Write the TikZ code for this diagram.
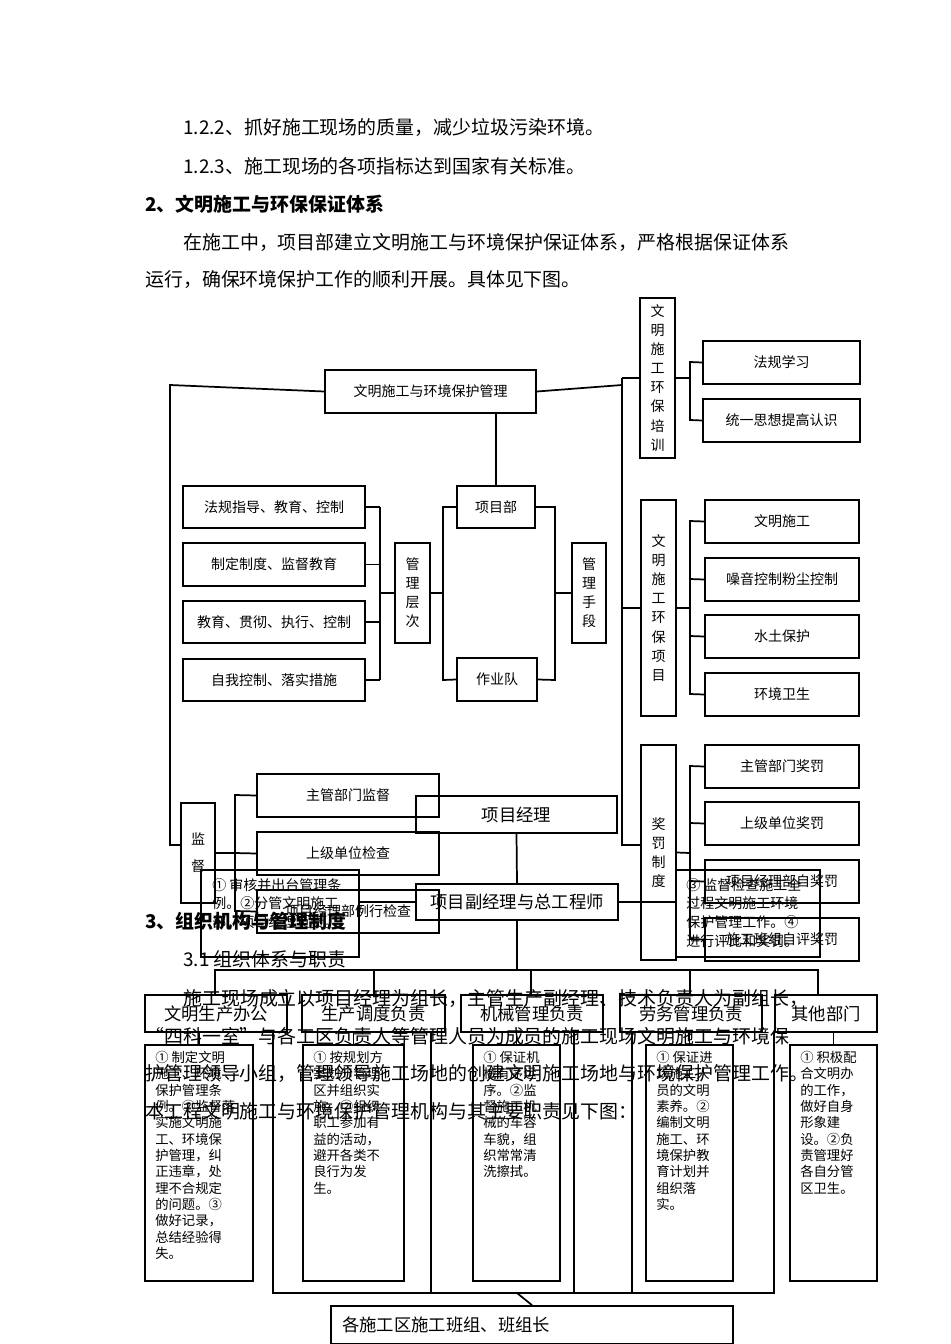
\documentclass[tikz,border=0pt]{standalone}
\usepackage{fontspec}
\setmainfont{Noto Sans CJK SC}
\begin{document}
\begin{tikzpicture}[x=0.75pt,y=-0.75pt,
  bx/.style={draw,line width=1.3pt,inner sep=0pt,font=\fontsize{10.5}{12}\selectfont},
  vbx/.style={bx,align=center,font=\fontsize{10.5}{14.3}\selectfont},
  para/.style={anchor=west,inner sep=0pt,font=\fontsize{14.2}{16}\selectfont},
  ln/.style={line width=1.3pt}]
\useasboundingbox (0,0) rectangle (950,1344);
\fill[white] (0,0) rectangle (950,1344);
\newcommand\mybx[6]{\node[bx,minimum width={(#4-#2)*0.75pt},minimum height={(#5-#3)*0.75pt}] (#1) at ({(#2+#4)/2},{(#3+#5)/2}) {#6};}
\newcommand\myvbx[6]{\node[vbx,minimum width={(#4-#2)*0.75pt},minimum height={(#5-#3)*0.75pt}] (#1) at ({(#2+#4)/2},{(#3+#5)/2}) {#6};}
% paragraphs
\node[para] (p1) at (183,128) {1.2.2、抓好施工现场的质量，减少垃圾污染环境。};
\node[para] (p2) at (183,166) {1.2.3、施工现场的各项指标达到国家有关标准。};
\node[para,font=\fontsize{14.2}{16}\selectfont\bfseries] (p3) at (145,204) {2、文明施工与环保保证体系};
\node[para] (p4) at (183,242) {在施工中，项目部建立文明施工与环境保护保证体系，严格根据保证体系};
\node[para] (p5) at (145,280) {运行，确保环境保护工作的顺利开展。具体见下图。};
% upper chart
\mybx{top}{325}{370}{536}{413}{文明施工与环境保护管理}
\mybx{xmb}{457}{486}{535}{528}{项目部}
\mybx{zyd}{457}{658}{537}{701}{作业队}
\mybx{l1}{183}{486}{365}{528}{法规指导、教育、控制}
\mybx{l2}{183}{543}{365}{586}{制定制度、监督教育}
\mybx{l3}{183}{601}{365}{643}{教育、贯彻、执行、控制}
\mybx{l4}{183}{659}{365}{701}{自我控制、落实措施}
\myvbx{glc}{395}{543}{430}{643}{管\\理\\层\\次}
\myvbx{gls}{572}{543}{606}{643}{管\\理\\手\\段}
\foreach \n in {l1,l2,l3,l4} \draw[ln] (\n.east) -- (\n.east -| 380,0);
\draw[ln] (380,507) -- (380,680); \draw[ln] (380,593) -- (glc.west);
\draw[ln] (xmb.west) -- (443,507) -- (443,680) -- (zyd.west); \draw[ln] (443,593) -- (glc.east);
\draw[ln] (xmb.east) -- (555,507) -- (555,680) -- (zyd.east); \draw[ln] (555,593) -- (gls.west);
\draw[ln] (xmb.north |- top.south) -- (xmb.north);
% right columns
\myvbx{px}{640}{298}{675}{458}{文\\明\\施\\工\\环\\保\\培\\训}
\mybx{r1}{703}{341}{860}{384}{法规学习}
\mybx{r2}{703}{399}{860}{442}{统一思想提高认识}
\draw[ln] (px.east) -- (690,378); \draw[ln] (r1.west) -- (690,362) -- (690,420) -- (r2.west);
\myvbx{xm}{641}{500}{676}{716}{文\\明\\施\\工\\环\\保\\项\\目}
\mybx{r3}{705}{500}{859}{543}{文明施工}
\mybx{r4}{705}{558}{859}{601}{噪音控制粉尘控制}
\mybx{r5}{705}{615}{859}{658}{水土保护}
\mybx{r6}{705}{673}{859}{716}{环境卫生}
\draw[ln] (r3.west) -- (690,521) -- (690,694) -- (r6.west);
\draw[ln] (r4.west) -- (690,579); \draw[ln] (r5.west) -- (690,636); \draw[ln] (xm.east) -- (690,608);
\myvbx{jf}{641}{745}{676}{960}{奖\\罚\\制\\度}
\mybx{r7}{705}{745}{859}{788}{主管部门奖罚}
\mybx{r8}{705}{802}{859}{845}{上级单位奖罚}
\mybx{r9}{705}{860}{859}{903}{项目经理部自奖罚}
\mybx{r10}{705}{918}{859}{961}{施工班组自评奖罚}
\draw[ln] (r7.west) -- (690,766) -- (690,939) -- (r10.west);
\draw[ln] (r8.west) -- (690,823); \draw[ln] (r9.west) -- (690,881); \draw[ln] (jf.east) -- (690,853);
\draw[ln] (top.east) -- (622,385); \draw[ln] (622,378) -- (622,845) -- (jf.west |- 0,845);
\draw[ln] (622,378) -- (px.west |- 0,378); \draw[ln] (622,608) -- (xm.west |- 0,608);
% supervision
\myvbx{jd}{181}{803}{215}{903}{监\\[6pt]督}
\mybx{s1}{257}{774}{439}{817}{主管部门监督}
\mybx{s2}{257}{832}{439}{875}{上级单位检查}
\mybx{s3}{257}{890}{439}{933}{项目经理部例行检查}
\draw[ln] (top.west) -- (170,385) -- (170,845) -- (jd.west |- 0,845);
\draw[ln] (s1.west) -- (235,795) -- (235,911) -- (s3.west); \draw[ln] (s2.west) -- (235,853); \draw[ln] (jd.east) -- (235,853);
% lower chart
\mybx{pm}{416}{796}{617}{833}{\fontsize{13}{15}\selectfont 项目经理}
\mybx{vpm}{416}{884}{618}{920}{\fontsize{13}{15}\selectfont 项目副经理与总工程师}
\node[bx,minimum width={158*0.75pt},minimum height={87*0.75pt}] (ovl) at (280,913.5) {};
\node[anchor=north west,inner sep=0pt,align=left,font=\fontsize{10.5}{14}\selectfont] (ovlt) at (212,878) {① 审核并出台管理条\\例。②分管文明施工\\部、项目经理负责。};
\node[bx,minimum width={144*0.75pt},minimum height={87*0.75pt}] (ovr) at (748,913.5) {};
\node[anchor=north west,inner sep=0pt,align=left,font=\fontsize{10.5}{14}\selectfont] (ovrt) at (686,878) {③ 监督检查施工全\\过程文明施工环境\\保护管理工作。④\\进行评比和奖罚。};
\draw[ln] (pm.south) -- (vpm.north);
\draw[ln] (vpm.west) -- (vpm.west -| ovl.east); \draw[ln] (vpm.east) -- (vpm.east -| ovr.west);
\mybx{h1}{145}{995}{287}{1032}{\fontsize{13}{15}\selectfont 文明生产办公}
\mybx{h2}{302}{995}{445}{1032}{\fontsize{13}{15}\selectfont 生产调度负责}
\mybx{h3}{461}{995}{603}{1032}{\fontsize{13}{15}\selectfont 机械管理负责}
\mybx{h4}{620}{995}{762}{1032}{\fontsize{13}{15}\selectfont 劳务管理负责}
\mybx{h5}{775}{995}{877}{1032}{\fontsize{13}{15}\selectfont 其他部门}
\draw[ln] (vpm.south) -- (517,970);
\draw[ln] (215,995) -- (215,970) -- (818,970) -- (818,995);
\foreach \xx in {374,531,690} \draw[ln] (\xx,970) -- (\xx,995);
\mybx{d1}{145}{1045}{253}{1281}{}
\mybx{d2}{303}{1045}{404}{1281}{}
\mybx{d3}{473}{1045}{560}{1281}{}
\mybx{d4}{646}{1045}{733}{1281}{}
\mybx{d5}{790}{1045}{877}{1281}{}
\foreach \i in {1,...,5} \draw[ln] (d\i.north) -- (d\i.north |- h\i.south);
\tikzset{dt/.style={anchor=north west,inner sep=0pt,align=left,font=\fontsize{10}{12.25}\selectfont}}
\node[dt] (t1) at (155,1051) {① 制定文明\\施工、环境\\保护管理条\\例。②监督落\\实施文明施\\工、环境保\\护管理，纠\\正违章，处\\理不合规定\\的问题。③\\做好记录，\\总结经验得\\失。};
\node[dt] (t2) at (313,1051) {① 按规划方\\案划分管理\\区并组织实\\施。②组织\\职工参加有\\益的活动，\\避开各类不\\良行为发\\生。};
\node[dt] (t3) at (483,1051) {① 保证机\\械有序运\\序。②监\\督施工机\\械的车容\\车貌，组\\织常常清\\洗擦拭。};
\node[dt] (t4) at (656,1051) {① 保证进\\场施工人\\员的文明\\素养。②\\编制文明\\施工、环\\境保护教\\育计划并\\组织落\\实。};
\node[dt] (t5) at (800,1051) {① 积极配\\合文明办\\的工作，\\做好自身\\形象建\\设。②负\\责管理好\\各自分管\\区卫生。};
\mybx{bot}{331}{1306}{733}{1344}{}
\node[anchor=west,inner sep=0pt,font=\fontsize{13}{15}\selectfont] (bott) at (342,1325) {各施工区施工班组、班组长};
\draw[ln] (273,1032) -- (273,1293) -- (774,1293) -- (774,1032);
\foreach \xx in {431,574,632} \draw[ln] (\xx,1032) -- (\xx,1293);
\draw[ln] (517,1293) -- (bot.north);
% overlapping paragraph text
\node[para,font=\fontsize{14.2}{16}\selectfont\bfseries] (p6) at (145,921) {3、组织机构与管理制度};
\node[para] (p7) at (183,959) {3.1 组织体系与职责};
\node[para] (p8) at (183,998) {施工现场成立以项目经理为组长，主管生产副经理、技术负责人为副组长，};
\node[para] (p9) at (145,1036) {“四科一室”与各工区负责人等管理人员为成员的施工现场文明施工与环境保};
\node[para] (p10) at (145,1073) {护管理领导小组，管理领导施工场地的创建文明施工场地与环境保护管理工作。};
\node[para] (p11) at (145,1111) {本工程文明施工与环境保护管理机构与其主要职责见下图：};
\end{tikzpicture}
\end{document}
